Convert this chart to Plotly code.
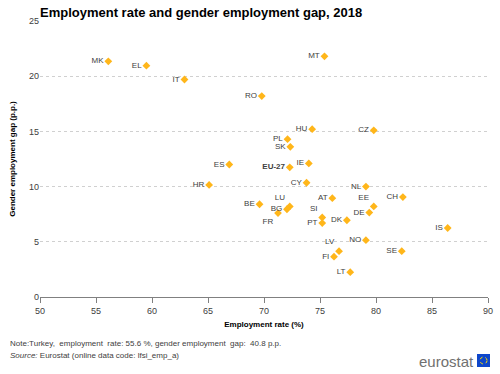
import plotly.graph_objects as go

countries = ["MK", "EL", "IT", "MT", "RO", "HU", "CZ", "PL", "SK", "IE", "EU-27", "ES",
             "HR", "BE", "CY", "NL", "AT", "CH", "FR", "DK", "IS", "NO", "LV", "FI",
             "SE", "LT", "EE", "DE", "LU", "BG", "SI", "PT"]
employment_rate = [56.1, 59.5, 62.9, 75.4, 69.8, 74.3, 79.8, 72.1, 72.35, 74.0, 72.3, 66.9,
                   65.1, 69.6, 73.8, 79.1, 76.1, 82.4, 71.25, 77.4, 86.4, 79.1, 76.7, 76.25,
                   82.3, 77.7, 79.8, 79.4, 72.3, 72.05, 75.2, 75.2]
gender_gap = [21.35, 20.95, 19.7, 21.8, 18.2, 15.2, 15.1, 14.3, 13.6, 12.1, 11.75, 12.0,
              10.15, 8.4, 10.35, 10.0, 8.95, 9.05, 7.6, 6.95, 6.25, 5.15, 4.15, 3.65,
              4.15, 2.25, 8.2, 7.65, 8.2, 7.95, 7.2, 6.7]

x_ticks = [50, 55, 60, 65, 70, 75, 80, 85, 90]
y_ticks = [0, 5, 10, 15, 20, 25]

labels = [f"<b>{c}</b>" if c == "EU-27" else c for c in countries]
raised = {"LU", "SI", "EE", "LV"}
lowered = {"FR"}
positions = ["top left" if c in raised else ("bottom left" if c in lowered else "middle left")
             for c in countries]

# plot area in pixels
L, R, T, B = 40, 488, 21, 297
W, H = 500, 374


def px(xp):
    return (xp - L) / (R - L)


def py(yp):
    return (B - yp) / (B - T)


fig = go.Figure(go.Scatter(
    x=employment_rate, y=gender_gap, mode="markers+text",
    text=labels, textposition=positions,
    textfont=dict(family="Arial, Liberation Sans, sans-serif", size=8, color="#404040"),
    marker=dict(symbol="diamond", size=6, color="#FFB61A"),
    cliponaxis=False, hoverinfo="x+y+text",
))

fig.update_layout(
    width=W, height=H,
    margin=dict(l=L, r=W - R, t=T, b=H - B, autoexpand=False),
    paper_bgcolor="white", plot_bgcolor="white",
    showlegend=False,
    font=dict(family="Arial, Liberation Sans, sans-serif", size=9, color="#404040"),
    title=dict(text="<b>Employment rate and gender employment gap, 2018</b>",
               x=40 / W, xanchor="left", y=1 - 12 / H, yanchor="middle",
               font=dict(size=13, color="#000000")),
    xaxis=dict(range=[50, 90], tickvals=x_ticks, showgrid=False, zeroline=False,
               showline=True, linecolor="#808080", linewidth=1,
               ticks="outside", ticklen=5, tickcolor="#808080", automargin=False,
               tickfont=dict(size=9, color="#404040"),
               title=dict(text="<b>Employment rate (%)</b>", font=dict(size=8, color="#000000"),
                          standoff=6)),
    yaxis=dict(range=[0, 25], tickvals=y_ticks, showgrid=True, gridcolor="#D0D0D0",
               griddash="dot", gridwidth=1, zeroline=False, showline=False,
               ticks="", tickfont=dict(size=9, color="#404040"), automargin=False,
               title=dict(text="<b>Gender employment gap (p.p.)</b>",
                          font=dict(size=8, color="#000000"), standoff=12)),
)

fig.add_annotation(x=px(8), y=py(343), xref="paper", yref="paper", xanchor="left",
                   yanchor="middle", showarrow=False,
                   text="Note:Turkey,  employment  rate: 55.6 %, gender employment  gap:  40.8 p.p.",
                   font=dict(size=8, color="#404040"))
fig.add_annotation(x=px(8), y=py(355), xref="paper", yref="paper", xanchor="left",
                   yanchor="middle", showarrow=False,
                   text="<i>Source:</i> Eurostat (online data code: lfsi_emp_a)",
                   font=dict(size=8, color="#404040"))
fig.add_annotation(x=px(476), y=py(361), xref="paper", yref="paper", xanchor="right",
                   yanchor="middle", showarrow=False, text="eurostat",
                   font=dict(size=15, color="#707070"))
fig.add_shape(type="rect", xref="paper", yref="paper",
              x0=px(477), x1=px(490), y0=py(367), y1=py(354),
              fillcolor="#0E47CB", line=dict(width=0))
fig.add_shape(type="circle", xref="paper", yref="paper",
              x0=px(480), x1=px(487), y0=py(364), y1=py(357),
              fillcolor="rgba(0,0,0,0)", line=dict(width=1, color="#FFDD00", dash="dot"))

fig.write_html("out.html", config={"displayModeBar": False},
               post_script="document.body.style.margin='0';document.body.style.overflow='hidden';")
